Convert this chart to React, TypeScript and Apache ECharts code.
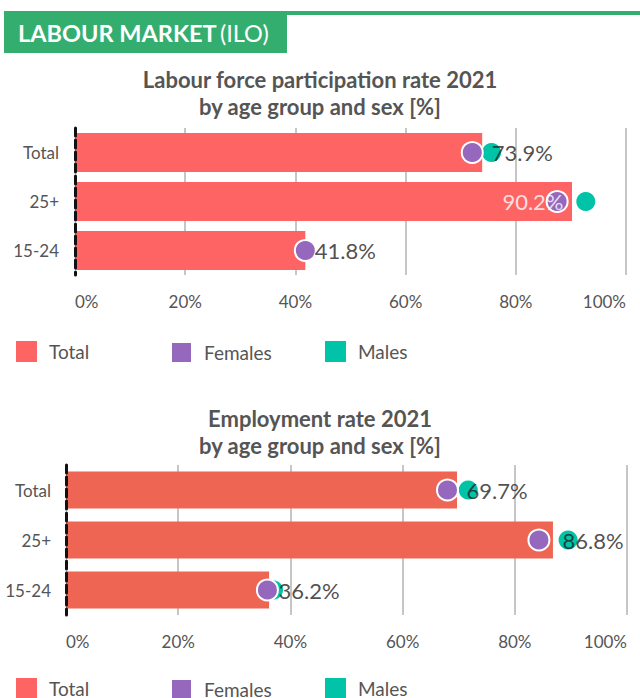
import React, { useEffect, useRef } from "react";
import * as echarts from "echarts";

const categories = ["Total", "25+", "15-24"];
const lfprTotal = [73.9, 90.2, 41.8];
const lfprFemales = [72.1, 87.5, 41.8];
const lfprMales = [75.6, 92.7, 41.9];
const empTotal = [69.7, 86.8, 36.2];
const empFemales = [68.0, 84.3, 35.9];
const empMales = [71.7, 89.5, 37.0];
const xTicks = [0, 20, 40, 60, 80, 100];
const legendNames = ["Total", "Females", "Males"];

const FONT = "Lato";
const RED1 = "#ff6464";
const RED2 = "#ee6553";
const PURPLE = "#9568bd";
const TEAL = "#00c3a7";
const GREEN = "#34ae6f";
const GREY = "#555555";

function pts(vals: number[]) {
  return vals.map((v, i) => [v, i]);
}

function labelData(vals: number[]) {
  return vals.map((v, i) =>
    v >= 90
      ? { value: [v, i], label: { position: "left", distance: 8, color: "#ffffff" } }
      : { value: [v, i] }
  );
}

function chartSeries(idx: number, total: number[], fem: number[], male: number[], barColor: string, barWidth: number) {
  return [
    {
      name: "Total",
      type: "bar",
      xAxisIndex: idx,
      yAxisIndex: idx,
      data: total,
      barWidth,
      itemStyle: { color: barColor },
      z: 2,
      silent: true,
    },
    {
      name: "Males",
      type: "scatter",
      xAxisIndex: idx,
      yAxisIndex: idx,
      data: pts(male),
      symbol: "circle",
      symbolSize: 19,
      itemStyle: { color: TEAL, opacity: 1 },
      z: 3,
      silent: true,
    },
    {
      name: "Females",
      type: "scatter",
      xAxisIndex: idx,
      yAxisIndex: idx,
      data: pts(fem),
      symbol: "circle",
      symbolSize: 21,
      itemStyle: { color: PURPLE, borderColor: "#ffffff", borderWidth: 2, opacity: 1 },
      z: 4,
      silent: true,
    },
    {
      name: "labels" + idx,
      type: "scatter",
      xAxisIndex: idx,
      yAxisIndex: idx,
      data: labelData(total),
      symbol: "circle",
      symbolSize: 1,
      itemStyle: { color: "rgba(0,0,0,0)" },
      z: 6,
      silent: true,
      label: {
        show: true,
        position: "right",
        distance: 9,
        fontSize: 22,
        fontFamily: FONT,
        color: "#222222",
        formatter: (p: any) => p.value[0].toFixed(1) + "%",
      },
    },
  ];
}

function legendsAt(top: number) {
  const colors = [RED1, PURPLE, TEAL];
  const lefts = [16, 170, 325];
  return legendNames.map((n, i) => ({
    top,
    left: lefts[i],
    orient: "horizontal",
    icon: "rect",
    itemWidth: 21,
    itemHeight: 21,
    selectedMode: false,
    padding: 0,
    textStyle: { fontSize: 19, color: GREY, fontFamily: FONT, padding: [0, 0, 0, 7] },
    data: [{ name: n, itemStyle: { color: colors[i] } }],
  }));
}

function xAxisFor(idx: number) {
  return {
    gridIndex: idx,
    type: "value",
    min: xTicks[0],
    max: xTicks[xTicks.length - 1],
    interval: xTicks[1] - xTicks[0],
    axisLine: { show: false },
    axisTick: { show: false },
    splitLine: { show: true, showMinLine: false, lineStyle: { color: "#c6c6c6", width: 2 } },
    axisLabel: {
      formatter: "{value}%",
      fontSize: 17,
      color: GREY,
      fontFamily: FONT,
      margin: 18,
      alignMinLabel: "left",
      alignMaxLabel: "right",
    },
  };
}

function yAxisFor(idx: number, margin: number) {
  return {
    gridIndex: idx,
    type: "category",
    data: categories,
    inverse: true,
    z: 7,
    axisLine: { show: true, lineStyle: { color: "#111111", width: 3, type: [8, 4] } },
    axisTick: { show: false },
    splitLine: { show: false },
    axisLabel: { fontSize: 17, color: GREY, fontFamily: FONT, margin },
  };
}

export default function App() {
  const ref = useRef<HTMLDivElement>(null);
  useEffect(() => {
    document.body.style.margin = "0";
    const chart = echarts.init(ref.current as HTMLDivElement, undefined, { renderer: "svg" });
    const titleStyle = { fontSize: 22, fontWeight: "bold", color: GREY, lineHeight: 27, fontFamily: FONT };
    const option: any = {
      animation: false,
      textStyle: { fontFamily: FONT },
      title: [
        {
          text: "Labour force participation rate 2021\nby age group and sex [%]",
          left: "center",
          top: 66,
          padding: 0,
          textStyle: titleStyle,
        },
        {
          text: "Employment rate 2021\nby age group and sex [%]",
          left: "center",
          top: 405,
          padding: 0,
          textStyle: titleStyle,
        },
      ],
      legend: [...legendsAt(341), ...legendsAt(678)],
      grid: [
        { left: 75, right: 14, top: 128, height: 147 },
        { left: 66, right: 13, top: 465, height: 150 },
      ],
      xAxis: [xAxisFor(0), xAxisFor(1)],
      yAxis: [yAxisFor(0, 16), yAxisFor(1, 15)],
      series: [
        ...chartSeries(0, lfprTotal, lfprFemales, lfprMales, RED1, 39),
        ...chartSeries(1, empTotal, empFemales, empMales, RED2, 37),
      ],
      graphic: [
        { type: "rect", shape: { x: 4, y: 11, width: 636, height: 4 }, style: { fill: GREEN }, silent: true },
        { type: "rect", shape: { x: 4, y: 11, width: 283, height: 42 }, style: { fill: GREEN }, silent: true },
        {
          type: "text",
          x: 18,
          y: 33,
          silent: true,
          style: {
            text: "{b|LABOUR MARKET} {r|(ILO)}",
            verticalAlign: "middle",
            rich: {
              b: { fontSize: 23.5, fontWeight: "bold", fill: "#ffffff", fontFamily: FONT },
              r: { fontSize: 23.5, fontWeight: "normal", fill: "#ffffff", fontFamily: FONT },
            },
          },
        },
      ],
    };
    chart.setOption(option);
    return () => chart.dispose();
  }, []);
  return <div ref={ref} style={{ width: 640, height: 698 }} />;
}
